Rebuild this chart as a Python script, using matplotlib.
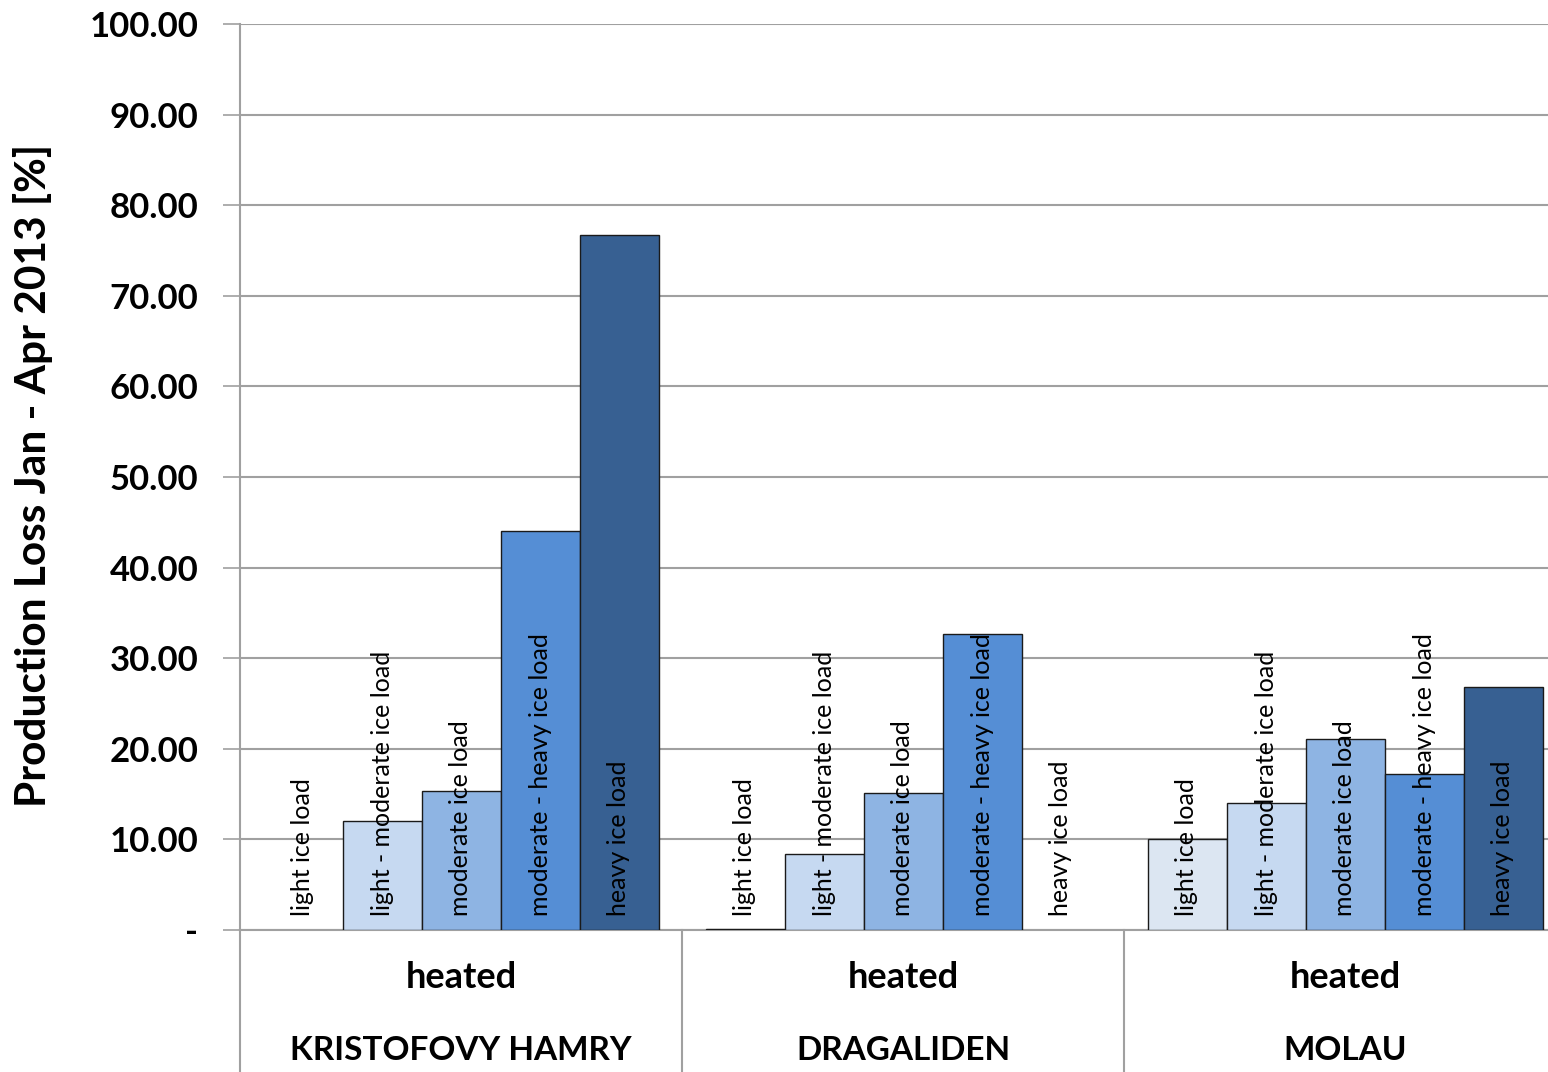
import matplotlib
matplotlib.use("Agg")
import matplotlib.pyplot as plt
import matplotlib.transforms as mtransforms
import numpy as np

plt.rcParams['font.family'] = ['Lato', 'DejaVu Sans']

sites = ["KRISTOFOVY HAMRY", "DRAGALIDEN", "MOLAU"]
group_label = "heated"
series = ["light ice load", "light - moderate ice load", "moderate ice load",
          "moderate - heavy ice load", "heavy ice load"]
values = {
    "light ice load":            [0.0, 0.15, 10.0],
    "light - moderate ice load": [12.0, 8.35, 14.0],
    "moderate ice load":         [15.3, 15.1, 21.1],
    "moderate - heavy ice load": [44.0, 32.7, 17.2],
    "heavy ice load":            [76.7, 0.0, 26.8],
}
colors = ["#DCE6F2", "#C6D9F1", "#8EB4E3", "#558ED5", "#376092"]
yticks = [0, 10, 20, 30, 40, 50, 60, 70, 80, 90, 100]

W, H = 1548, 1072
fig = plt.figure(figsize=(W / 100, H / 100), dpi=100)
ax = fig.add_axes([240 / W, (H - 930) / H, (W - 240) / W, (930 - 24) / H])

x = np.arange(len(sites))
bw = 79 / 442
for k, s in enumerate(series):
    pos = x + (k - 2) * bw
    bars = ax.bar(pos, values[s], width=bw, color=colors[k], edgecolor="#1a1a1a",
                  linewidth=1.0, zorder=3)
    for b, v in zip(bars, values[s]):
        if v == 0:
            b.set_visible(False)
    for p in pos:
        ax.annotate(s, xy=(p, 0), xytext=(0, 10), textcoords="offset points",
                    rotation=90, ha="center", va="bottom", fontsize=18,
                    color="black", zorder=5)

ax.set_xlim(-0.5, -0.5 + (W - 240) / 442)
ax.set_ylim(0, 100)
ax.set_yticks(yticks)
ax.set_yticklabels(["-"] + [f"{v:.2f}" for v in yticks[1:]],
                   fontsize=25, fontweight="bold")
ax.tick_params(axis="y", length=12, width=1.2, color="#a0a0a0", pad=18)
ax.set_xticks([])
ax.yaxis.grid(True, color="#a0a0a0", linewidth=1.5, zorder=0)
ax.set_axisbelow(True)
for sp in ["top", "right"]:
    ax.spines[sp].set_visible(False)
ax.spines["left"].set_color("#a0a0a0")
ax.spines["left"].set_linewidth(1.5)
ax.spines["bottom"].set_color("#a0a0a0")
ax.spines["bottom"].set_linewidth(1.5)

fig.text(33 / W, 1 - 475 / H, "Production Loss Jan - Apr 2013 [%]",
         rotation=90, ha="center", va="center", fontsize=30.5,
         fontweight="bold")

trans = mtransforms.blended_transform_factory(ax.transData, ax.transAxes)
for i, site in enumerate(sites):
    ax.text(i, -47 / 906, group_label, transform=trans, ha="center",
            va="center", fontsize=26, fontweight="bold")
    ax.text(i, -121 / 906, site, transform=trans, ha="center",
            va="center", fontsize=24, fontweight="bold")
for b in [-0.5, 0.5, 1.5]:
    ax.plot([b, b], [0, -150 / 906], transform=trans, color="#a0a0a0",
            linewidth=1.5, clip_on=False)

fig.savefig("out.png", dpi=100)
